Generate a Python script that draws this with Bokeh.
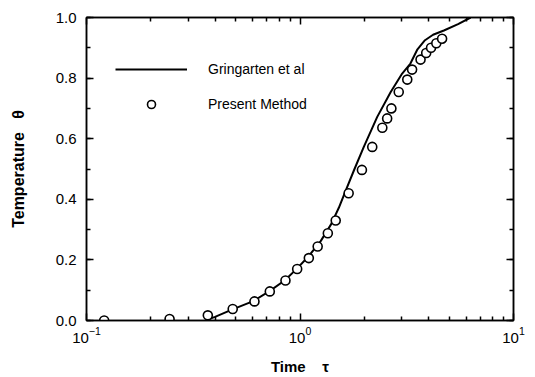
from bokeh.plotting import figure
from bokeh.models import (LogAxis, LinearAxis, FixedTicker, SingleIntervalTicker,
                          PrintfTickFormatter, LogTickFormatter, CustomJSTickFormatter,
                          Legend, LegendItem, Range1d)
from bokeh.embed import file_html
from bokeh.resources import INLINE

# Gringarten et al (solid line)
tau_line = [0.36, 0.40, 0.48, 0.60, 0.72, 0.85, 0.97, 1.10, 1.25, 1.40, 1.52, 1.63,
            1.80, 1.99, 2.30, 2.66, 3.01, 3.29, 3.55, 3.85, 4.20, 4.72, 5.50, 6.30]
theta_line = [0.0, 0.012, 0.036, 0.063, 0.097, 0.133, 0.172, 0.213, 0.262, 0.318, 0.372, 0.425,
              0.50, 0.573, 0.672, 0.754, 0.815, 0.848, 0.895, 0.925, 0.943, 0.957, 0.978, 1.0]

# Present Method (open circles)
tau_present = [0.121, 0.245, 0.37, 0.484, 0.612, 0.722, 0.855, 0.97, 1.10, 1.21, 1.35, 1.47,
               1.69, 1.95, 2.18, 2.43, 2.56, 2.68, 2.90, 3.18, 3.35, 3.67, 3.90, 4.11, 4.35, 4.63]
theta_present = [0.0, 0.005, 0.017, 0.038, 0.063, 0.096, 0.132, 0.17, 0.206, 0.244, 0.288, 0.33,
                 0.42, 0.497, 0.573, 0.636, 0.667, 0.70, 0.754, 0.795, 0.828, 0.861, 0.883, 0.90,
                 0.915, 0.93]

x_major = [0.1, 1, 10]
x_minor = [0.2, 0.3, 0.4, 0.5, 0.6, 0.7, 0.8, 0.9, 2, 3, 4, 5, 6, 7, 8, 9]

FONT = "Liberation Sans"
NB = "\u00a0"

p = figure(width=535, height=377, x_axis_type="log", output_backend="svg",
           toolbar_location=None, x_range=Range1d(0.1, 10), y_range=Range1d(0, 1),
           min_border_left=86, min_border_right=22, min_border_top=17, min_border_bottom=56,
           x_axis_label="Time" + NB * 4 + "τ", y_axis_label="Temperature" + NB * 3 + "θ")
p.grid.visible = False
p.outline_line_color = "black"
p.outline_line_width = 1.5
p.background_fill_color = "white"
p.border_fill_color = "white"

xt = FixedTicker(ticks=x_major, minor_ticks=x_minor)
yt = SingleIntervalTicker(interval=0.2, num_minor_ticks=2)
blank = CustomJSTickFormatter(code="return '';")

for ax in p.xaxis:
    ax.ticker = xt
    ax.formatter = LogTickFormatter()
for ax in p.yaxis:
    ax.ticker = yt
    ax.formatter = PrintfTickFormatter(format="%.1f")

def style(ax):
    ax.axis_line_color = "black"
    ax.axis_line_width = 1.5
    ax.major_tick_in = 7
    ax.major_tick_out = 0
    ax.minor_tick_in = 4
    ax.minor_tick_out = 0
    ax.major_tick_line_width = 1.5
    ax.minor_tick_line_width = 1.5
    ax.major_label_text_font = FONT
    ax.major_label_text_font_size = "15px"
    ax.major_label_text_color = "black"
    ax.axis_label_text_font = FONT
    ax.axis_label_text_font_size = "15px"
    ax.axis_label_text_font_style = "bold"
    ax.axis_label_text_color = "black"

for ax in p.xaxis:
    style(ax)
    ax.major_label_standoff = 6
    ax.axis_label_standoff = 12
for ax in p.yaxis:
    style(ax)
    ax.axis_label_text_font_size = "16px"
    ax.major_label_standoff = 10
    ax.axis_label_standoff = 26

top = LogAxis(ticker=xt, formatter=blank)
style(top)
top.major_label_standoff = 0
p.add_layout(top, "above")
right = LinearAxis(ticker=yt, formatter=blank)
style(right)
right.major_label_standoff = 0
p.add_layout(right, "right")

r_line = p.line(tau_line, theta_line, line_color="black", line_width=2)
r_pts = p.scatter(tau_present, theta_present, marker="circle", size=9,
                  fill_color="white", line_color="black", line_width=1.6)

legend = Legend(items=[LegendItem(label="Gringarten et al", renderers=[r_line]),
                       LegendItem(label="Present Method", renderers=[r_pts])],
                location=(29, 206), glyph_width=72, glyph_height=20, spacing=15,
                label_standoff=21, padding=0, margin=0,
                border_line_color=None, background_fill_alpha=0,
                label_text_font=FONT, label_text_font_size="14px", label_text_color="black")
p.add_layout(legend)

open("out.html", "w").write(file_html(p, INLINE))
